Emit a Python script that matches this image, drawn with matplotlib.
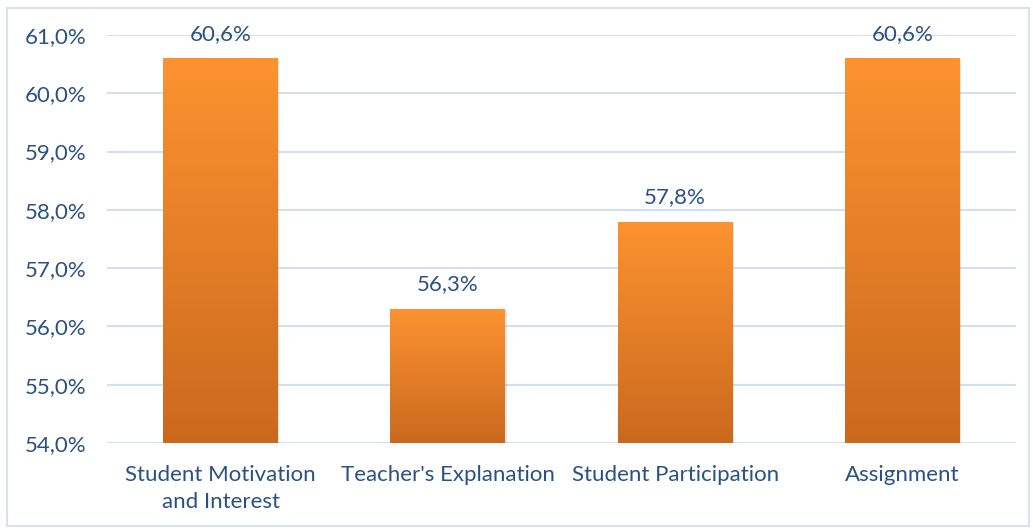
import numpy as np
import matplotlib.pyplot as plt
from matplotlib.colors import LinearSegmentedColormap
from matplotlib.patches import Rectangle

categories = ["Student Motivation\nand Interest", "Teacher's Explanation",
              "Student Participation", "Assignment"]
values = [60.6, 56.3, 57.8, 60.6]
yticks = [54, 55, 56, 57, 58, 59, 60, 61]

TEXT = '#2A5182'
GRID = '#D3E0F2'
FS = 16

plt.rcParams['font.family'] = ['Lato', 'DejaVu Sans']

fig = plt.figure(figsize=(10.33, 5.30), dpi=100)
ax = fig.add_axes([107 / 1033, 1 - 443 / 530, (1016 - 107) / 1033, (443 - 35) / 530])

# frame around the whole chart
fig.patches.append(Rectangle((7 / 1033, 4 / 530), 1022 / 1033, 518 / 530,
                             transform=fig.transFigure, fill=False,
                             edgecolor='#D9E2EE', linewidth=1.5))

x = np.arange(len(categories))
bars = ax.bar(x, [v - 54 for v in values], bottom=54, width=0.505,
              color='none', edgecolor='none', zorder=3)

cmap = LinearSegmentedColormap.from_list('orange', ['#CA691E', '#FD9330'])
grad = np.linspace(0, 1, 256).reshape(-1, 1)
for b, v in zip(bars, values):
    # soft shadow
    ax.add_patch(Rectangle((b.get_x() + 0.006, 54), b.get_width(), v - 54 - 0.02,
                           facecolor='#000000', alpha=0.10, edgecolor='none', zorder=2))
    im = ax.imshow(grad, cmap=cmap, origin='lower', aspect='auto',
                   extent=[b.get_x(), b.get_x() + b.get_width(), 54, v], zorder=3)
    im.set_clip_path(b)
    ax.text(b.get_x() + b.get_width() / 2, v + 0.25, f"{v:.1f}%".replace('.', ','),
            ha='center', va='bottom', color=TEXT, fontsize=FS)

ax.set_xlim(-0.5, len(categories) - 0.5)
ax.set_ylim(54, 61)
ax.set_yticks(yticks)
ax.set_yticklabels([f"{t:.1f}%".replace('.', ',') for t in yticks])
ax.set_xticks(x)
ax.set_xticklabels(categories, linespacing=1.45)
ax.tick_params(axis='both', length=0, colors=TEXT, labelsize=FS)
ax.tick_params(axis='y', pad=15)
ax.tick_params(axis='x', pad=16)
ax.grid(axis='y', color=GRID, linewidth=1.5, zorder=0)
ax.set_axisbelow(True)
for s in ax.spines.values():
    s.set_visible(False)

fig.savefig('out.png', dpi=100)
